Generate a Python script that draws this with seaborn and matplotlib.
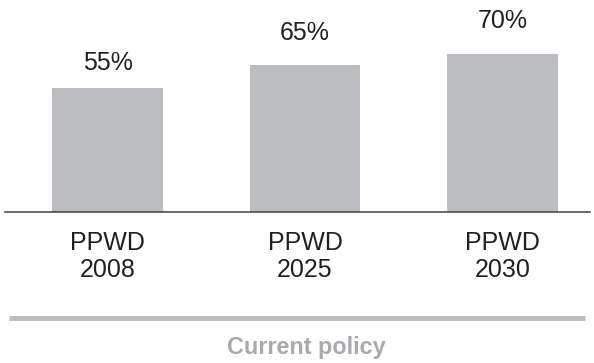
import matplotlib
matplotlib.use("Agg")
import matplotlib.pyplot as plt
from matplotlib.lines import Line2D
import seaborn as sns
import pandas as pd

# Share of PPWD under current policy
categories = ["PPWD\n2008", "PPWD\n2025", "PPWD\n2030"]
values = [55, 65, 70]
value_labels = ["55%", "65%", "70%"]
group_label = "Current policy"

sns.set_theme(style="white")
plt.rcParams["font.family"] = ["Liberation Sans", "DejaVu Sans"]

BAR = "#bcbdc0"
TEXT = "#231f20"
W, H, DPI = 594, 363, 100

df = pd.DataFrame({"category": categories, "share": values})

fig = plt.figure(figsize=(W / DPI, H / DPI), dpi=DPI)
fig.patch.set_facecolor("white")

# axes in pixel terms: baseline at 212.3 px from top, spans 5..590 px
ax_left, ax_right = 5, 590
base_y = 212.3
ax = fig.add_axes([ax_left / W, (H - base_y) / H, (ax_right - ax_left) / W, base_y / H])

sns.barplot(data=df, x="category", y="share", color=BAR, saturation=1,
            width=0.557, linewidth=0, ax=ax)

px_per_unit = 2.265
ax.set_ylim(0, base_y / px_per_unit)
ax.set_xlim(1 - 300 / 197.5, 1 + 285 / 197.5)

for s in ["top", "right", "left"]:
    ax.spines[s].set_visible(False)
ax.spines["bottom"].set_color("#404040")
ax.spines["bottom"].set_linewidth(1.1)
ax.set_yticks([])
ax.set_xlabel("")
ax.set_ylabel("")
ax.tick_params(axis="x", length=0, pad=13.5, labelsize=18, labelcolor=TEXT)
for lbl in ax.get_xticklabels():
    lbl.set_linespacing(1.16)
ax.set_facecolor("none")

# value labels above the bars (gap in points)
gaps = [12.7, 18.0, 18.7]
for i, (v, t) in enumerate(zip(values, value_labels)):
    ax.annotate(t, xy=(i, v), xytext=(0, gaps[i]), textcoords="offset points",
                ha="center", va="baseline", fontsize=18, color=TEXT)

# group bracket line and label
line_y = (H - 317.5) / H
fig.add_artist(Line2D([9 / W, 585 / W], [line_y, line_y], transform=fig.transFigure,
                      color=BAR, linewidth=3.6, solid_capstyle="butt"))
fig.text(306.5 / W, (H - 354) / H, group_label, ha="center", va="baseline",
         fontsize=16.8, fontweight="bold", color="#a9aaad")

fig.savefig("out.png", dpi=DPI, facecolor="white")
